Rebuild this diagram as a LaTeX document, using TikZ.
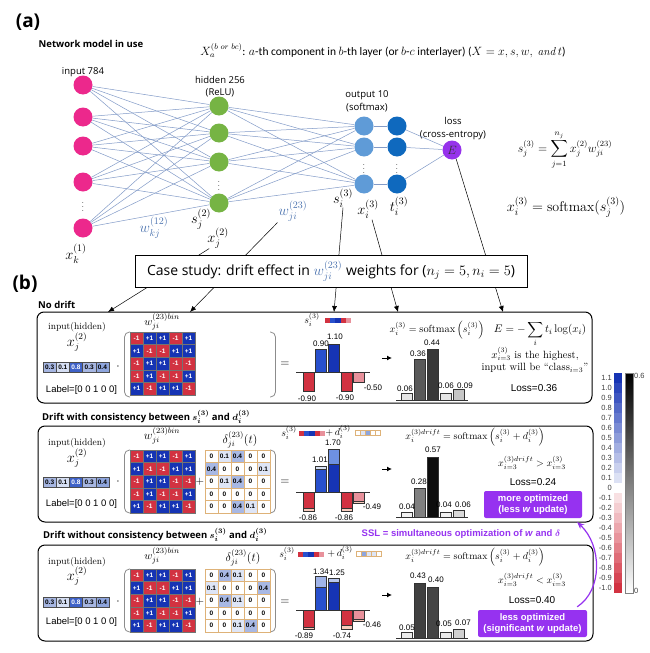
\documentclass[tikz,border=0pt]{standalone}
\usepackage{amsmath}
\usepackage{fontspec}
\newfontfamily\osans{Open Sans}
\newfontfamily\arl{Liberation Sans}
\newfontfamily\carl{Carlito}
\usetikzlibrary{arrows.meta,calc}
\definecolor{netline}{RGB}{130,155,200}
\definecolor{inpink}{RGB}{236,40,140}
\definecolor{hidgreen}{RGB}{118,180,68}
\definecolor{outblue}{RGB}{95,155,215}
\definecolor{tblue}{RGB}{15,105,190}
\definecolor{lossp}{RGB}{150,50,235}
\definecolor{wlab}{RGB}{75,115,175}
\definecolor{posblue}{RGB}{22,52,180}
\definecolor{midblue}{RGB}{40,80,205}
\definecolor{negred}{RGB}{210,50,65}
\definecolor{ltred}{RGB}{232,145,155}
\definecolor{peach}{RGB}{248,205,190}
\definecolor{capA}{RGB}{215,225,245}
\definecolor{capB}{RGB}{110,145,225}
\definecolor{capC}{RGB}{160,180,232}
\definecolor{capD}{RGB}{185,200,238}
\definecolor{purp}{RGB}{150,50,240}
\definecolor{tanb}{RGB}{222,178,120}
\definecolor{vA}{RGB}{213,222,243}
\definecolor{vB}{RGB}{166,182,226}
\definecolor{vC}{RGB}{63,98,200}
\definecolor{vD}{RGB}{142,165,221}
\definecolor{dA}{RGB}{222,229,246}
\definecolor{dB}{RGB}{168,184,228}
\tikzset{
 neuron/.style={circle, minimum size=19pt, inner sep=0pt},
 netl/.style={netline, line width=0.5pt},
 conn/.style={black, line width=0.5pt, -{Latex[length=6pt,width=5pt]}},
 lab/.style={font=\osans\fontsize{9.5}{12.5}\selectfont, inner sep=0pt, align=center},
 head/.style={font=\osans\bfseries\fontsize{9.5}{11}\selectfont, inner sep=0pt},
 mth/.style={font=\fontsize{14.4}{16}\selectfont, inner sep=0pt},
 pmth/.style={font=\fontsize{13.5}{15}\selectfont, inner sep=0pt},
 smth/.style={font=\fontsize{9.8}{11}\selectfont, inner sep=0pt},
 serif/.style={font=\fontsize{9.5}{11}\selectfont, inner sep=0pt},
 bserif/.style={font=\fontsize{10.5}{12}\selectfont, inner sep=0pt},
 arlt/.style={font=\arl\fontsize{10}{11}\selectfont, inner sep=0pt},
 valt/.style={font=\arl\fontsize{8}{9}\selectfont, inner sep=0pt},
 wcell/.style={draw=black!55, line width=0.3pt, minimum width=13pt, minimum height=12.6pt, inner sep=0pt, text=white, font=\arl\bfseries\fontsize{6.5}{7}\selectfont},
 dcell/.style={draw=tanb, line width=0.5pt, minimum width=13pt, minimum height=12.6pt, inner sep=0pt, font=\arl\bfseries\fontsize{6.5}{7}\selectfont},
 vcell/.style={draw=black!70, line width=0.4pt, minimum width=13.2pt, minimum height=10pt, inner sep=0pt, font=\arl\bfseries\fontsize{6.5}{7}\selectfont},
 strip/.style={minimum width=5.2pt, minimum height=5pt, inner sep=0pt},
 dstrip/.style={draw=tanb, line width=0.4pt, minimum width=5pt, minimum height=5pt, inner sep=0pt},
 barl/.style={draw=black!80, line width=0.5pt},
 bracket/.style={draw=black!45, line width=0.8pt, rounded corners=5pt},
 panel/.style={draw=black, line width=1pt, rounded corners=7pt, inner sep=0pt},
 pbox/.style={fill=purp, text=white, rounded corners=2pt, align=center, inner sep=0pt, font=\arl\bfseries\fontsize{9.5}{11}\selectfont},
 cbl/.style={font=\arl\fontsize{7.5}{8}\selectfont, text=black!75, inner sep=0pt, anchor=east},
}
\newcommand\wmat[2]{%
 \foreach \v [count=\k from 0] in {-1,+1,+1,-1,+1,+1,-1,-1,+1,+1,-1,+1,+1,-1,-1,-1,+1,-1,-1,+1,+1,-1,+1,+1,-1}{%
  \pgfmathtruncatemacro\rr{div(\k,5)}%
  \pgfmathtruncatemacro\cc{mod(\k,5)}%
  \ifdim\v pt<0pt \def\cf{negred}\else\def\cf{posblue}\fi
  \node[wcell, fill=\cf] (#1w\rr\cc) at ({136.5+13*\cc},{#2+6.3+12.6*\rr}) {\v};}}
\newcommand\dmat[3]{%
 \foreach \v [count=\k from 0] in {#3}{%
  \pgfmathtruncatemacro\rr{div(\k,5)}%
  \pgfmathtruncatemacro\cc{mod(\k,5)}%
  \ifdim\v pt>0.2pt \def\cf{dB}\else\ifdim\v pt>0.05pt \def\cf{dA}\else\def\cf{white}\fi\fi
  \node[dcell, fill=\cf] (#1d\rr\cc) at ({211.5+13*\cc},{#2+6.3+12.6*\rr}) {\v};}}
\newcommand\invec[2]{%
 \foreach \v/\c/\t [count=\k from 0] in {0.3/vB/black,0.1/vA/black,0.8/vC/white,0.3/vB/black,0.4/vD/black}{%
  \node[vcell, fill=\c, text=\t] (#1v\k) at ({49.6+13.2*\k},{#2+5}) {\v};}}
\newcommand\brk[2]{%
 \draw[bracket] (130,#1) -- (124.5,#1) -- (124.5,#2) -- (130,#2);
 \draw[bracket] (270,#1) -- (275.5,#1) -- (275.5,#2) -- (270,#2);}
\newcommand\mybar[4]{\draw[barl, fill=#4] (#1,#2) rectangle ++(11,{#3});}
\newcommand\sstrip[3]{%
 \foreach \c [count=\k from 0] in {negred,midblue,posblue,negred,ltred}{%
  \node[strip, fill=\c] (#1s\k) at ({#2+5.2*\k},#3) {};}}
\begin{document}
\begin{tikzpicture}[x=1pt,y=-1pt]
\fill[white] (0,0) rectangle (650,653);
\useasboundingbox (0,0) rectangle (650,653);
% ---------- (a) ----------
\node[font=\osans\bfseries\fontsize{19}{20}\selectfont, inner sep=0pt] (alab) at (28,22) {(a)};
\node[head] (nmu) at (91,44) {Network model in use};
\node[font=\carl\fontsize{11.5}{13}\selectfont, inner sep=0pt] (notation) at (383,51) {$X_a^{(b\ or\ bc)}$: $a$-th component in $b$-th layer (or $b$-$c$ interlayer) ($X=x,s,w,\ \mathit{and}\ t$)};
\node[lab] (in784) at (83,72) {input 784};
\node[lab] (hidl) at (220,86.5) {hidden 256\\(ReLU)};
\node[lab] (outl) at (367,101.5) {output 10\\(softmax)};
\node[lab] (lossl) at (453,128.5) {loss\\(cross-entropy)};
\foreach \n/\y in {1/85,2/117,3/146,4/182,5/228} \node[neuron, fill=inpink] (i\n) at (83,\y) {};
\node[inner sep=0pt, font=\fontsize{9}{9}\selectfont] (idots) at (83,204) {$\vdots$};
\foreach \n/\y in {1/106,2/133,3/162,4/203} \node[neuron, fill=hidgreen] (h\n) at (219,\y) {};
\node[inner sep=0pt, font=\fontsize{9}{9}\selectfont] (hdots) at (219,183) {$\vdots$};
\foreach \n/\y in {1/126,2/147,3/184} {\node[neuron, fill=outblue] (o\n) at (364,\y) {}; \node[neuron, fill=tblue] (t\n) at (397,\y) {};}
\node[inner sep=0pt, font=\fontsize{9}{9}\selectfont] (odots) at (364,166) {$\vdots$};
\node[inner sep=0pt, font=\fontsize{9}{9}\selectfont] (tdots) at (397,166) {$\vdots$};
\node[neuron, fill=lossp, text=black!80, font=\fontsize{12}{12}\selectfont] (E) at (452,150) {$E$};
\foreach \a in {1,...,5} \foreach \b in {1,...,4} \draw[netl] (i\a) -- (h\b);
\foreach \a in {1,...,4} \foreach \b in {1,...,3} \draw[netl] (h\a) -- (o\b);
\foreach \b in {1,2,3} {\draw[netl] (o\b) -- (t\b); \draw[netl] (t\b) -- (E);}
\node[mth, text=wlab] (wkj) at (154,228) {$w_{kj}^{(12)}$};
\node[mth] (sj2) at (201,219) {$s_j^{(2)}$};
\node[mth] (xj2) at (218,238) {$x_j^{(2)}$};
\node[mth, text=wlab] (wji) at (293,211) {$w_{ji}^{(23)}$};
\node[mth] (si3) at (343,198) {$s_i^{(3)}$};
\node[mth] (xi3) at (368,209) {$x_i^{(3)}$};
\node[mth] (ti3) at (399,206) {$t_i^{(3)}$};
\node[mth] (xk1) at (76,254) {$x_k^{(1)}$};
\node[font=\fontsize{12}{14}\selectfont, inner sep=0pt] (eqs) at (565,150) {$s_j^{(3)} = \displaystyle\sum_{j=1}^{n_j} x_j^{(2)} w_{ji}^{(23)}$};
\node[font=\fontsize{14}{16}\selectfont, inner sep=0pt] (eqx) at (566,207) {$x_i^{(3)} = \mathrm{softmax}(s_j^{(3)})$};
% connectors to panel (b)
\coordinate (a1) at (108,312);
\coordinate (a2) at (190,312);
\coordinate (a3) at (334,312);
\coordinate (a4) at (398,312);
\coordinate (a5) at (503,312);
\draw[conn] ($(xj2.south west)+(2,0)$) -- (a1);
\draw[conn] ($(wji.south west)+(-1,1)$) -- (a2);
\draw[conn] (si3.south) -- (a3);
\draw[conn] ($(xi3.south)+(4,1)$) -- (a4);
\draw[conn] (E.-65) -- (a5);
\node[draw, fill=white, line width=0.9pt, minimum width=392pt, minimum height=32pt, font=\osans\fontsize{14}{16}\selectfont] (cs) at (331,271) {Case study: drift effect in $\color{wlab}w_{ji}^{(23)}$ weights for ($n_j = 5, n_i = 5$)};
% ---------- (b) ----------
\node[font=\osans\bfseries\fontsize{19}{20}\selectfont, inner sep=0pt] (blab) at (25,284) {(b)};
\node[head, anchor=west] (h1) at (38,305) {No drift};
\node[head, anchor=west] (h2) at (42,417) {Drift with consistency between $\boldsymbol{s_i^{(3)}}$ and $\boldsymbol{d_i^{(3)}}$};
\node[head, anchor=west] (h3) at (43,535) {Drift without consistency between $\boldsymbol{s_i^{(3)}}$ and $\boldsymbol{d_i^{(3)}}$};
\node[panel, minimum width=555pt, minimum height=91pt] (P1) at (314.5,357.5) {};
\node[panel, minimum width=555pt, minimum height=96pt] (P2) at (315.5,474) {};
\node[panel, minimum width=555pt, minimum height=96pt] (P3) at (315.5,593) {};
% colorbar
\foreach \v [count=\k from 0] in {1.1,1.0,0.9,0.8,0.7,0.6,0.5,0.4,0.3,0.2,0.1,0,-0.1,-0.2,-0.3,-0.4,-0.5,-0.6,-0.7,-0.8,-0.9,-1.0}{%
 \ifnum\k<11 \pgfmathtruncatemacro\pc{100-8.5*\k}\def\cbc{posblue!\pc!white}%
 \else\ifnum\k=11 \def\cbc{white}\else\pgfmathtruncatemacro\pc{15+(\k-12)*85/9}\def\cbc{negred!\pc!white}\fi\fi
 \fill[\cbc] (614,{373+10*\k}) rectangle (622,{383+10*\k});
 \node[cbl] (cb\k) at (612,{378+10*\k}) {\v};}
\shade[top color=black, bottom color=white, draw=black!50, line width=0.4pt] (625,373) rectangle (633,593);
\node[cbl, anchor=west] (cbg1) at (634,376) {0.6};
\node[cbl, anchor=west] (cbg0) at (634,591) {0};
% ===== panel 1 =====
\node[serif] (p1ih) at (77,327) {input(hidden)};
\node[pmth] (p1xj) at (77,342) {$x_j^{(2)}$};
\invec{p1}{362}
\node[font=\fontsize{12}{12}\selectfont, inner sep=0pt] (p1dot) at (118,367) {$\cdot$};
\node[arlt, font=\arl\fontsize{9.5}{11}\selectfont] (p1lab) at (81.5,390) {Label=[0 0 1 0 0]};
\node[font=\fontsize{11}{12}\selectfont, inner sep=0pt] (p1wl) at (162,322) {$w_{ji}^{(23)bin}$};
\brk{332}{397}
\wmat{p1}{332}
\node[font=\fontsize{12}{12}\selectfont, inner sep=0pt] (p1eq) at (285,364) {$=$};
\node[smth] (p1s) at (312,320) {$s_i^{(3)}$};
\sstrip{p1}{327.6}{320}
\draw[black!80, line width=0.6pt] (296,372) -- (370,372);
\mybar{303}{372}{18.9}{negred}
\mybar{315.6}{372}{-22.5}{midblue}
\mybar{328.2}{372}{-27.5}{posblue}
\mybar{340.8}{372}{18.9}{negred}
\mybar{353.4}{372}{10.5}{ltred}
\node[valt] (p1b2) at (321,344) {0.90};
\node[valt] (p1b3) at (335,337) {1.10};
\node[valt] (p1b1) at (307,399) {-0.90};
\node[valt] (p1b4) at (345,398) {-0.90};
\node[valt] (p1b5) at (373,388) {-0.50};
\coordinate (p1ar1) at (382,358); \coordinate (p1ar2) at (392,358);
\draw[line width=1pt, -{Latex[length=5pt,width=5pt]}] (p1ar1) -- (p1ar2);
\node[font=\fontsize{10.4}{12}\selectfont, inner sep=0pt] (p1sm) at (437,330) {$x_i^{(3)} = \mathrm{softmax}\left(s_i^{(3)}\right)$};
\draw[black!80, line width=0.6pt] (396,400) -- (468,400);
\mybar{401}{400}{-7}{black!10}
\mybar{414}{400}{-41}{black!65}
\mybar{427}{400}{-51}{black!78}
\mybar{440}{400}{-7}{black!10}
\mybar{453}{400}{-10.5}{black!22}
\node[valt] (p1c1) at (405,389) {0.06};
\node[valt] (p1c2) at (418,354) {0.36};
\node[valt] (p1c3) at (432,343) {0.44};
\node[valt] (p1c4) at (446,386) {0.06};
\node[valt] (p1c5) at (465,386) {0.09};
\node[font=\fontsize{11}{13}\selectfont, inner sep=0pt] (p1E) at (540,334) {$E=-\displaystyle\sum_{i} t_i\log(x_i)$};
\node[bserif] (p1hi) at (535,354) {$x_{i=3}^{(3)}$ is the highest,};
\node[bserif] (p1in) at (535,368) {input will be ``class$_{i=3}$''};
\node[arlt] (p1loss) at (534,388) {Loss=0.36};
% ===== panel 2 =====
\node[serif] (p2ih) at (77,443) {input(hidden)};
\node[pmth] (p2xj) at (77,458) {$x_j^{(2)}$};
\invec{p2}{477}
\node[font=\fontsize{12}{12}\selectfont, inner sep=0pt] (p2dot) at (118,482) {$\cdot$};
\node[arlt, font=\arl\fontsize{9.5}{11}\selectfont] (p2lab) at (81.5,504) {Label=[0 0 1 0 0]};
\node[font=\fontsize{12}{13}\selectfont, inner sep=0pt] (p2wl) at (162,436) {$w_{ji}^{(23)bin}$};
\node[font=\fontsize{12}{13}\selectfont, inner sep=0pt] (p2dl) at (240,440) {$\delta_{ji}^{(23)}(t)$};
\brk{450}{513}
\wmat{p2}{450}
\node[font=\fontsize{11}{12}\selectfont, inner sep=0pt] (p2plus) at (200,482) {$+$};
\dmat{p2}{450}{0,0.1,0.4,0,0,0.4,0,0,0,0.1,0,0.1,0.4,0,0,0,0,0,0,0,0,0,0.4,0.1,0}
\node[font=\fontsize{12}{12}\selectfont, inner sep=0pt] (p2eq) at (285,482) {$=$};
\node[smth] (p2s) at (289,433) {$s_i^{(3)}$};
\sstrip{p2}{301.6}{433}
\node[smth] (p2d) at (338,432) {$+\,d_i^{(3)}$};
\foreach \c [count=\k from 0] in {white,dA,vD,white,white} \node[dstrip, fill=\c] (p2ds\k) at ({357.5+5*\k},433) {};
\draw[black!80, line width=0.6pt] (296,492) -- (370,492);
\mybar{303}{492}{16.5}{negred} \mybar{303}{508.5}{2.5}{peach}
\mybar{315.6}{492}{-22.5}{midblue} \mybar{315.6}{469.5}{-3}{capA}
\mybar{328.2}{492}{-27.5}{posblue} \mybar{328.2}{464.5}{-15}{capB}
\mybar{340.8}{492}{16.5}{negred} \mybar{340.8}{508.5}{2.5}{peach}
\mybar{353.4}{492}{9.5}{ltred} \mybar{353.4}{501.5}{1.5}{peach}
\node[valt] (p2b2) at (320,460) {1.01};
\node[valt] (p2b3) at (333,443) {1.70};
\node[valt] (p2b1) at (308,518) {-0.86};
\node[valt] (p2b4) at (344,518) {-0.86};
\node[valt] (p2b5) at (372,507) {-0.49};
\coordinate (p2ar1) at (382,469); \coordinate (p2ar2) at (392,469);
\draw[line width=1pt, -{Latex[length=5pt,width=5pt]}] (p2ar1) -- (p2ar2);
\node[smth] (p2sm) at (475,437) {$x_i^{(3)drift} = \mathrm{softmax}\left(s_i^{(3)}+d_i^{(3)}\right)$};
\draw[black!80, line width=0.6pt] (396,517) -- (468,517);
\mybar{401}{517}{-4.5}{black!5}
\mybar{414}{517}{-29}{black!50}
\mybar{427}{517}{-60}{black!95}
\mybar{440}{517}{-4.5}{black!5}
\mybar{453}{517}{-6.5}{black!15}
\node[valt] (p2c1) at (407,507) {0.04};
\node[valt] (p2c2) at (419,482) {0.28};
\node[valt] (p2c3) at (433,450) {0.57};
\node[valt] (p2c4) at (444,505) {0.04};
\node[valt] (p2c5) at (463,505) {0.06};
\node[smth] (p2cmp) at (532,463) {$x_{i=3}^{(3)drift} > x_{i=3}^{(3)}$};
\node[arlt] (p2loss) at (533,482) {Loss=0.24};
\node[pbox, minimum width=98pt, minimum height=27pt] (more) at (533,504.5) {more optimized\\(less \textit{w} update)};
% ===== panel 3 =====
\node[serif] (p3ih) at (77,562) {input(hidden)};
\node[pmth] (p3xj) at (77,576) {$x_j^{(2)}$};
\invec{p3}{597}
\node[font=\fontsize{12}{12}\selectfont, inner sep=0pt] (p3dot) at (118,602) {$\cdot$};
\node[arlt, font=\arl\fontsize{9.5}{11}\selectfont] (p3lab) at (81.5,622) {Label=[0 0 1 0 0]};
\node[font=\fontsize{11}{12}\selectfont, inner sep=0pt] (p3wl) at (162,556) {$w_{ji}^{(23)bin}$};
\node[font=\fontsize{12}{13}\selectfont, inner sep=0pt] (p3dl) at (243,558) {$\delta_{ji}^{(23)}(t)$};
\brk{569}{632}
\wmat{p3}{569}
\node[font=\fontsize{11}{12}\selectfont, inner sep=0pt] (p3plus) at (200,602) {$+$};
\dmat{p3}{569}{0,0.4,0.1,0,0,0.1,0,0,0,0.4,0,0.4,0.1,0,0,0,0,0,0,0,0,0,0.1,0.4,0}
\node[font=\fontsize{12}{12}\selectfont, inner sep=0pt] (p3eq) at (285,602) {$=$};
\node[smth] (p3s) at (287,554) {$s_i^{(3)}$};
\sstrip{p3}{300.6}{554}
\node[smth] (p3d) at (340,553) {$+\,d_i^{(3)}$};
\foreach \c [count=\k from 0] in {white,vD,dA,dA,white} \node[dstrip, fill=\c] (p3ds\k) at ({359+5*\k},554) {};
\draw[black!80, line width=0.6pt] (296,610) -- (370,610);
\mybar{303}{610}{17.5}{negred} \mybar{303}{627.5}{2}{peach}
\mybar{315.6}{610}{-22.5}{midblue} \mybar{315.6}{587.5}{-11}{capC}
\mybar{328.2}{610}{-27.5}{posblue} \mybar{328.2}{582.5}{-3.8}{capD}
\mybar{340.8}{610}{15.5}{negred} \mybar{340.8}{625.5}{3.5}{peach}
\mybar{353.4}{610}{9.5}{ltred} \mybar{353.4}{619.5}{1.5}{peach}
\node[valt] (p3b2) at (321,572) {1.34};
\node[valt] (p3b3) at (337,573) {1.25};
\node[valt] (p3b1) at (304,636) {-0.89};
\node[valt] (p3b4) at (342,636) {-0.74};
\node[valt] (p3b5) at (372,625) {-0.46};
\coordinate (p3ar1) at (382,595); \coordinate (p3ar2) at (392,595);
\draw[line width=1pt, -{Latex[length=5pt,width=5pt]}] (p3ar1) -- (p3ar2);
\node[smth] (p3sm) at (475,557) {$x_i^{(3)drift} = \mathrm{softmax}\left(s_i^{(3)}+d_i^{(3)}\right)$};
\draw[black!80, line width=0.6pt] (396,638) -- (468,638);
\mybar{401}{638}{-6}{black!8}
\mybar{414}{638}{-55}{black!75}
\mybar{427}{638}{-51}{black!73}
\mybar{440}{638}{-6}{black!8}
\mybar{453}{638}{-9}{black!18}
\node[valt] (p3c1) at (407,628) {0.05};
\node[valt] (p3c2) at (418,576) {0.43};
\node[valt] (p3c3) at (436,580) {0.40};
\node[valt] (p3c4) at (444,624) {0.05};
\node[valt] (p3c5) at (463,623) {0.07};
\node[smth] (p3cmp) at (532,580) {$x_{i=3}^{(3)drift} < x_{i=3}^{(3)}$};
\node[arlt] (p3loss) at (532,600) {Loss=0.40};
\node[pbox, minimum width=109pt, minimum height=27pt] (less) at (532.5,623.5) {less optimized\\(significant \textit{w} update)};
\node[font=\arl\bfseries\fontsize{9.5}{11}\selectfont, text=purp, inner sep=0pt] (ssl) at (461,534) {SSL = simultaneous optimization of \textit{w} and $\boldsymbol{\delta}$};
\draw[purp, line width=1.2pt, -{Stealth[length=7pt,width=6pt]}] ($(less.north east)+(-10,-3)$) .. controls (603,590) and (602,545) .. ($(more.south east)+(-5,4)$);
\end{tikzpicture}
\end{document}
